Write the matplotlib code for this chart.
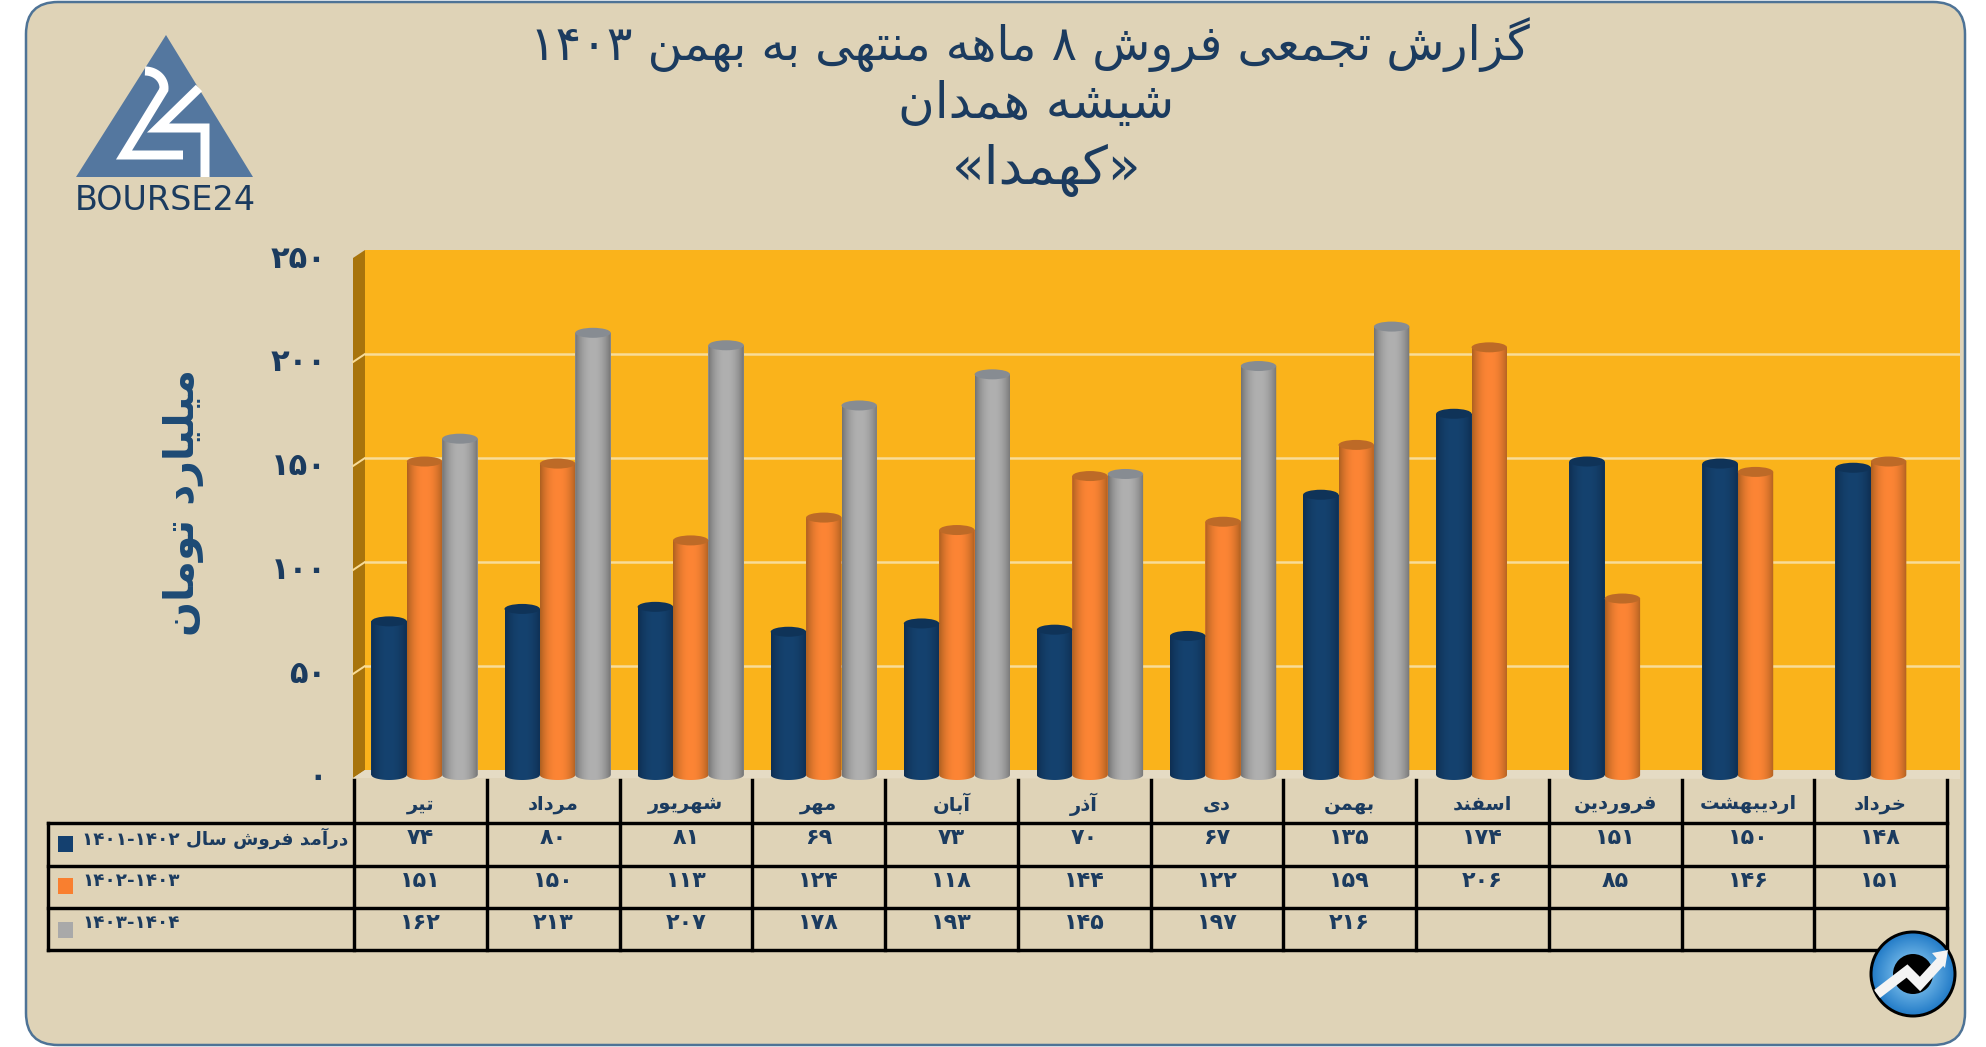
import re
import numpy as np
import matplotlib
matplotlib.use("Agg")
import matplotlib.pyplot as plt
from matplotlib.patches import Circle, Ellipse, FancyBboxPatch, PathPatch, Polygon, Rectangle
from matplotlib.path import Path

W, H = 1986, 1047

months = ["تیر", "مرداد", "شهریور", "مهر", "آبان", "آذر", "دی", "بهمن", "اسفند", "فروردین", "اردیبهشت", "خرداد"]
sales_1401 = [74, 80, 81, 69, 73, 70, 67, 135, 174, 151, 150, 148]
sales_1402 = [151, 150, 113, 124, 118, 144, 122, 159, 206, 85, 146, 151]
sales_1403 = [162, 213, 207, 178, 193, 145, 197, 216, None, None, None, None]
series_names = ["درآمد فروش سال ۱۴۰۱-۱۴۰۲", "۱۴۰۲-۱۴۰۳", "۱۴۰۳-۱۴۰۴"]
y_ticks = [0, 50, 100, 150, 200, 250]
title_lines = ["گزارش تجمعی فروش ۸ ماهه منتهی به بهمن ۱۴۰۳", "شیشه همدان", "«کهمدا»"]
y_title = "میلیارد تومان"

NAVY = "#1B3B5F"
BG = "#DFD3B7"
# body, edge, top of each cylinder
series_colors = [("#15426F", "#0E2F52", "#0F3358"),
                 ("#FD8535", "#AE6020", "#BD6A27"),
                 ("#B0B0B0", "#747474", "#878C92")]
swatch_colors = ["#14406F", "#F97F2F", "#A9A9A9"]

# matplotlib has no arabic shaping, so pick the presentation forms by hand
# (isolated, final, initial, medial)
forms = {}
for ch, base in {"ب": 0xFE8F, "ت": 0xFE95, "ج": 0xFE9D, "ح": 0xFEA1, "خ": 0xFEA5, "س": 0xFEB1, "ش": 0xFEB5,
                 "ع": 0xFEC9, "ف": 0xFED1, "ق": 0xFED5, "ل": 0xFEDD, "م": 0xFEE1, "ن": 0xFEE5, "ه": 0xFEE9,
                 "پ": 0xFB56, "ک": 0xFB8E, "گ": 0xFB92, "ی": 0xFBFC}.items():
  forms[ch] = [chr(base + i) for i in range(4)]
for ch, base in {"ا": 0xFE8D, "آ": 0xFE81, "د": 0xFEA9, "ذ": 0xFEAB, "ر": 0xFEAD, "ز": 0xFEAF, "ژ": 0xFB8A, "و": 0xFEED}.items():
  forms[ch] = [chr(base), chr(base + 1)]

def shape_run(run):
  out = []
  for i, ch in enumerate(run):
    if ch not in forms:
      out.append({"«": "»", "»": "«"}.get(ch, ch))
      continue
    prev_joins = i > 0 and run[i-1] in forms and len(forms[run[i-1]]) == 4
    next_joins = i + 1 < len(run) and run[i+1] in forms and len(forms[ch]) == 4
    if prev_joins and next_joins:
      out.append(forms[ch][3])
    elif prev_joins:
      out.append(forms[ch][1])
    elif next_joins:
      out.append(forms[ch][2])
    else:
      out.append(forms[ch][0])
  return "".join(reversed(out))

def rtl(text):
  parts = re.split(r"([۰-۹]+(?:-[۰-۹]+)*)", text)
  return "".join(p if re.fullmatch(r"[۰-۹]+(?:-[۰-۹]+)*", p) else shape_run(p) for p in reversed(parts))

def fa_num(n):
  return str(n).translate(str.maketrans("0123456789", "۰۱۲۳۴۵۶۷۸۹"))

def px_axes(left, right, top, bottom, **kw):
  return fig.add_axes([left/W, 1-bottom/H, (right-left)/W, (bottom-top)/H], **kw)

def lw(px):
  return px*72/100

fig = plt.figure(figsize=(W/100, H/100), dpi=100, facecolor="white")

# background layer works in image pixels
bg = fig.add_axes([0, 0, 1, 1], zorder=0)
bg.set_xlim(0, W)
bg.set_ylim(H, 0)
bg.axis("off")
bg.add_patch(FancyBboxPatch((26, 2), 1939, 1043, boxstyle="round,pad=0,rounding_size=32",
                            facecolor=BG, edgecolor="#4E7396", linewidth=lw(2.5)))

for line, x, y, size in zip(title_lines, [1030, 1036, 1047], [45, 104, 170], [34.3, 36, 38.5]):
  bg.text(x, y, rtl(line), ha="center", va="center", fontsize=size, color=NAVY, family="DejaVu Sans")

# logo
bg.add_patch(Polygon([(76, 177), (253, 177), (166, 35)], facecolor="#54779F", edgecolor="none"))
t = np.linspace(-np.pi/2, 0.1, 20)
two_x = list(145 + 19*np.cos(t)) + [124, 183]
two_y = list(88 + 17*np.sin(t)) + [155, 155]
bg.plot(two_x, two_y, color="white", lw=lw(9), solid_joinstyle="miter", solid_capstyle="butt")
bg.plot([199, 158, 205, 205], [88, 128, 128, 177], color="white", lw=lw(9), solid_joinstyle="miter", solid_capstyle="butt")
bg.text(165, 200, "BOURSE24", ha="center", va="center", fontsize=24, color=NAVY, family="DejaVu Sans")

# side wall and floor of the 3d box
bg.add_patch(Polygon([(353, 258), (365, 250), (365, 770), (353, 778)], facecolor="#A8740C", edgecolor="none"))
bg.add_patch(Polygon([(353, 778), (365, 770), (1960, 770), (1960, 779)], facecolor="#E5DBC4", edgecolor="none"))

col_w = 132.75
table_left = 354
def col_x(i):
  return table_left + col_w*(i + 0.5)

wall = px_axes(365, 1960, 250, 770, zorder=1, facecolor="#FAB31B")
wall.set_xlim(0, 1)
wall.set_ylim(0, 250)
for s in wall.spines.values():
  s.set_visible(False)
wall.set_xticks([])
wall.set_yticks(y_ticks[1:-1])
wall.tick_params(length=0, labelleft=False)
wall.grid(axis="y", color="#F8DC98", linewidth=lw(2.5))

# gridline continuation over the side wall
for v in y_ticks[1:-1]:
  y = 770 - v*520/250
  bg.plot([353, 365], [y + 8, y], color="#F8DC98", lw=lw(2), zorder=3)

# tick labels sit at the front edge of the box
front = px_axes(353, 354, 256, 775, zorder=1, frameon=False)
front.set_ylim(0, 250)
front.set_xticks([])
front.set_yticks(y_ticks, [fa_num(v) for v in y_ticks], fontsize=22, fontweight="bold", color=NAVY, family="DejaVu Sans")
front.tick_params(length=0, pad=19)

# bars are shifted slightly below the back wall, same scale
group_w = 133.1
group_0 = 424.5
bars = px_axes(365, 1960, 256, 775, zorder=2, frameon=False)
x_left = (365 - group_0)/group_w
x_right = (1960 - group_0)/group_w
bars.set_xlim(x_left, x_right)
bars.set_ylim(0, 250)
bars.set_xticks([])
bars.set_yticks([])

bar_w = 35.4/group_w
ell_h = 10*250/519
grad_x = np.linspace(0, 1, 64)
all_series = [sales_1401, sales_1402, sales_1403]

def cylinder(x, v, colors):
  body, edge, top = [np.array(matplotlib.colors.to_rgb(c)) for c in colors]
  bars.bar(x, v, width=bar_w, color=colors[0], linewidth=0, zorder=2)
  mix = np.clip(np.abs(grad_x - 0.5)*2, 0, 1)[:, None]**2.2
  img = (body*(1 - mix) + edge*mix)[None, :, :]
  ang = np.linspace(np.pi, 0, 30)
  xs = [x - bar_w/2] + list(x + bar_w/2*np.cos(ang)) + [x + bar_w/2]
  ys = [v] + list(-ell_h/2*np.sin(ang)) + [v]
  clip = PathPatch(Path(np.column_stack([xs, ys])), transform=bars.transData)
  im = bars.imshow(img, extent=[x - bar_w/2, x + bar_w/2, -ell_h/2, v], aspect="auto", zorder=3)
  im.set_clip_box(fig.bbox)
  im.set_clip_path(clip)
  bars.add_patch(Ellipse((x, v), bar_w, ell_h, facecolor=top, edgecolor="none", zorder=4, clip_on=False))

for s, vals in enumerate(all_series):
  for i, v in enumerate(vals):
    if v is not None:
      cylinder(i + (s - 1)*bar_w, v, series_colors[s])
bars.set_xlim(x_left, x_right)
bars.set_ylim(0, 250)

bg.text(184, 502, rtl(y_title), rotation=90, ha="center", va="center", fontsize=29.5, fontweight="bold",
        color="#1D4A75", family="DejaVu Sans")

# data table
row_lines = [823, 866, 908, 950]
row_text_y = [838, 881, 923]
for y in row_lines:
  bg.plot([48, table_left + 12*col_w], [y, y], color="black", lw=lw(3.4), solid_capstyle="projecting", zorder=4)
bg.plot([48, 48], [823, 950], color="black", lw=lw(3.4), zorder=4)
for i in range(13):
  bg.plot([table_left + i*col_w]*2, [780, 950], color="black", lw=lw(3.4), zorder=4)

for i, m in enumerate(months):
  bg.text(col_x(i), 804, rtl(m), ha="center", va="center", fontsize=14, fontweight="bold", color=NAVY, family="DejaVu Sans")
  for vals, y in zip(all_series, row_text_y):
    if vals[i] is not None:
      bg.text(col_x(i), y, fa_num(vals[i]), ha="center", va="center", fontsize=16, fontweight="bold", color=NAVY, family="DejaVu Sans")

for name, col, y, sw_y in zip(series_names, swatch_colors, row_text_y, [836, 878, 922]):
  bg.add_patch(Rectangle((58, sw_y), 15, 16, facecolor=col, edgecolor="none", zorder=4))
  bg.text(82, y, rtl(name), ha="left", va="center", fontsize=13.2, fontweight="bold", color=NAVY, family="DejaVu Sans")

# round badge, bottom right
cx, cy, r = 1913, 974, 42
yy, xx = np.mgrid[-1:1:120j, -1:1:120j]
rad = np.sqrt(xx**2 + yy**2)
c0, c1 = np.array([0.62, 0.85, 0.98]), np.array([0.13, 0.48, 0.78])
badge = c0 + (c1 - c0)*np.clip(rad, 0, 1)[:, :, None]
im = bg.imshow(badge, extent=[cx - r, cx + r, cy + r, cy - r], aspect="auto", zorder=5)
circle_clip = Circle((cx, cy), r, transform=bg.transData)
im.set_clip_path(circle_clip)
bg.set_xlim(0, W)
bg.set_ylim(H, 0)
bg.add_patch(Circle((cx, cy), r, facecolor="none", edgecolor="black", linewidth=lw(3), zorder=6))
bg.add_patch(Circle((cx, cy), 20, facecolor="black", edgecolor="none", zorder=6))
arrow, = bg.plot([1877, 1907, 1920, 1941], [994, 971, 984, 961], color="#F4F4F4", lw=lw(10), solid_joinstyle="miter",
                 solid_capstyle="butt", zorder=7)
arrow.set_clip_path(circle_clip)
bg.add_patch(Polygon([(1932, 953), (1948, 950), (1945, 968)], facecolor="#F4F4F4", edgecolor="none", zorder=7))

fig.savefig("out.png", dpi=100)
